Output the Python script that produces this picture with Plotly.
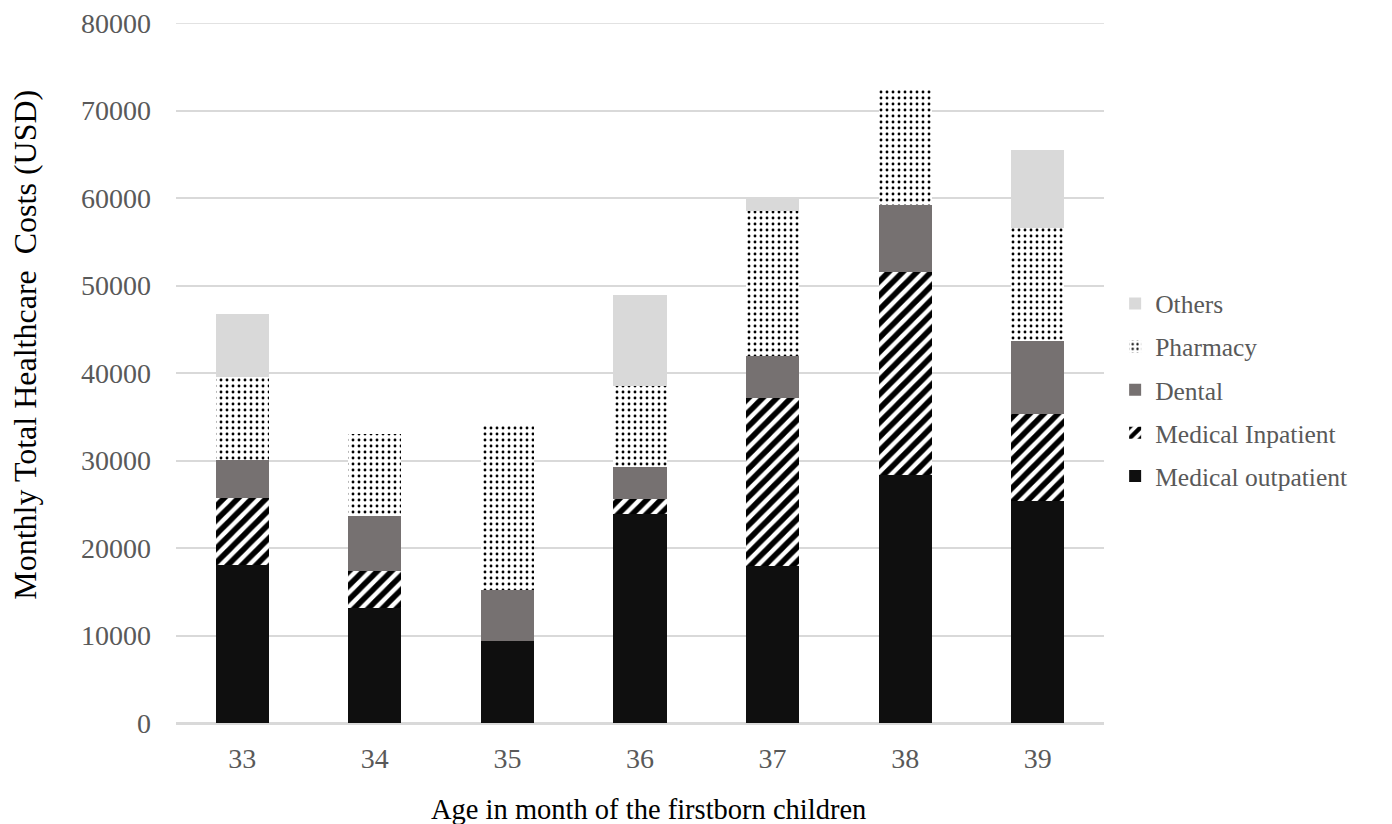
import plotly.graph_objects as go

ages = ["33", "34", "35", "36", "37", "38", "39"]
outpatient = [18050, 13100, 9400, 23900, 17950, 28400, 25400]
inpatient = [7650, 4300, 0, 1700, 19150, 23100, 9900]
dental = [4400, 6300, 5800, 3700, 4900, 7700, 8400]
pharmacy = [9500, 9300, 18900, 9200, 16500, 13100, 12900]
others = [7100, 0, 0, 10400, 1600, 0, 8900]
y_max = 80000

FONT = "Liberation Serif"
GRID = "#d9d9d9"

fig = go.Figure()
fig.add_bar(x=ages, y=outpatient, name="Medical outpatient", legendgroup="e", legendrank=5,
            marker=dict(color="#0f0f0f", line=dict(width=0)))
fig.add_bar(x=ages, y=inpatient, name="Medical Inpatient", legendgroup="d", legendrank=4,
            marker=dict(color="white", line=dict(width=0),
                        pattern=dict(shape="/", fgcolor="#000000", bgcolor="white",
                                     fgopacity=1, size=10, solidity=0.55)))
fig.add_bar(x=ages, y=dental, name="Dental", legendgroup="c", legendrank=3,
            marker=dict(color="#767171", line=dict(width=0)))
fig.add_bar(x=ages, y=pharmacy, name="Pharmacy", legendgroup="b", legendrank=2,
            marker=dict(color="white", line=dict(width=0),
                        pattern=dict(shape=".", fgcolor="#000000", bgcolor="white",
                                     fgopacity=1, size=6, solidity=0.18)))
fig.add_bar(x=ages, y=others, name="Others", legendgroup="a", legendrank=1,
            marker=dict(color="#d9d9d9", line=dict(width=0)))

fig.update_layout(
    barmode="stack",
    bargap=0.6,
    width=1392, height=824,
    margin=dict(l=168, r=296, t=15, b=109, autoexpand=False),
    paper_bgcolor="white", plot_bgcolor="white",
    font=dict(family=FONT, size=26, color="#595959"),
    legend=dict(traceorder="grouped", x=1.012, xanchor="left", y=0.476,
                yanchor="middle",
                font=dict(family=FONT, size=25.5, color="#595959"),
                tracegroupgap=7, itemwidth=30),
    xaxis=dict(
        automargin=False,
        showline=True, linecolor=GRID, linewidth=1.5,
        tickfont=dict(family=FONT, size=28, color="#595959"),
        ticks="", ticklabelstandoff=10,
    ),
    yaxis=dict(
        automargin=False,
        range=[0, y_max], dtick=10000,
        showgrid=True, gridcolor=GRID, gridwidth=1.5,
        zeroline=True, zerolinecolor=GRID, zerolinewidth=1.5,
        tickfont=dict(family=FONT, size=28, color="#595959"),
        ticks="", ticklabelstandoff=24, tickformat="d",
        ticklabeloverflow="allow",
    ),
    shapes=[dict(type="line", xref="paper", yref="y", x0=0, x1=1, y0=y_max, y1=y_max,
                 line=dict(color=GRID, width=1.5), layer="below")],
    annotations=[
        dict(text="Age in month of the firstborn children", xref="paper", yref="paper",
             x=0.509, y=-0.124, xanchor="center", yanchor="middle", showarrow=False,
             font=dict(family=FONT, size=28.5, color="black")),
        dict(text="Monthly Total Healthcare  Costs (USD)", xref="paper", yref="paper",
             x=-0.163, y=0.54, xanchor="center", yanchor="middle", showarrow=False,
             textangle=-90, font=dict(family=FONT, size=32, color="black")),
    ],
)

fig.write_html("out.html")
